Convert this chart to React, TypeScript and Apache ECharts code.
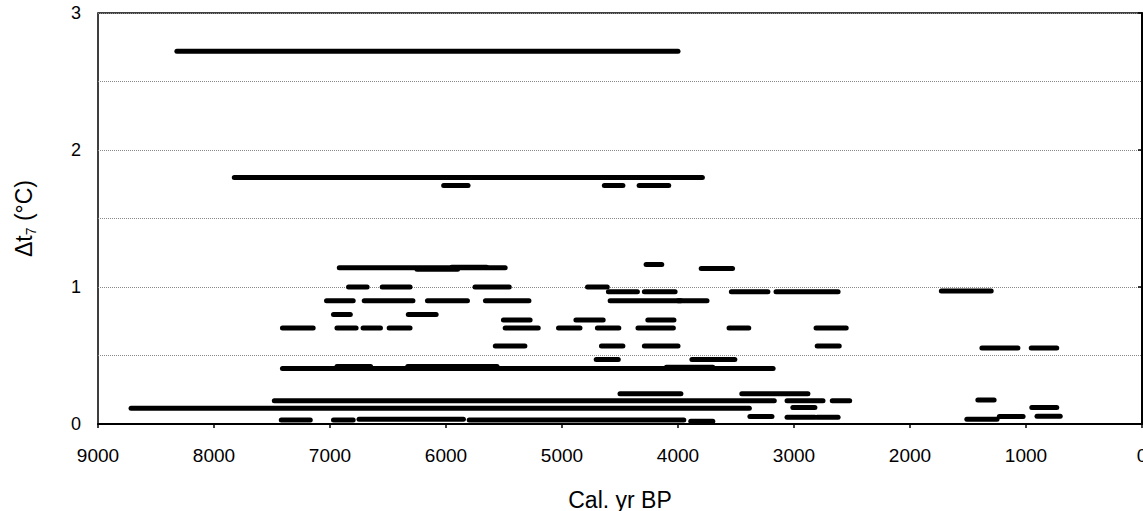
import React, { useEffect, useRef } from "react";
import * as echarts from "echarts";

// Each record: start (cal. yr BP), end (cal. yr BP), Δt7 level (°C)
const segStart = [
  8320, 7825, 6020, 4635, 4335,
  6920, 6250, 5950, 4275, 3800,
  6840, 6550, 5750, 4780,
  4600, 4290, 3540, 3155, 1730,
  7030, 6705, 6160, 5660, 4585, 4000,
  6970, 6325,
  5505, 4880, 4260,
  7410, 6940, 6715, 6490, 5490, 5030, 4695, 4345, 3560, 2810,
  5575, 4660, 4290, 2800, 1380, 955,
  4705, 3880, 3700,
  7410, 6940, 6330, 4100,
  4500, 3450,
  7480, 3060, 2670, 1415,
  8715, 3010, 950,
  7420, 6970, 6750, 5800, 3890, 3380, 3060, 2800, 1510, 1230, 905,
];
const segEnd = [
  4000, 3790, 5810, 4475, 4080,
  5490, 5900, 5650, 4140, 3530,
  6680, 6310, 5455, 4610,
  4350, 4025, 3225, 2620, 1300,
  6800, 6285, 5815, 5285, 3975, 3750,
  6825, 6085,
  5275, 4645, 4035,
  7145, 6775, 6565, 6310, 5205, 4845, 4510, 4040, 3390, 2550,
  5320, 4475, 4000, 2610, 1070, 735,
  4515, 3700, 3510,
  3180, 6650, 5560, 3700,
  3975, 2880,
  3170, 2750, 2520, 1275,
  3385, 2820, 735,
  7170, 6800, 5850, 3950, 3700, 3190, 2820, 2620, 1250, 1025, 705,
];
const segLevel = [
  2.72, 1.8, 1.74, 1.74, 1.74,
  1.14, 1.13, 1.145, 1.165, 1.135,
  1.0, 1.0, 1.0, 1.0,
  0.965, 0.965, 0.965, 0.965, 0.97,
  0.9, 0.9, 0.9, 0.9, 0.9, 0.9,
  0.8, 0.8,
  0.76, 0.76, 0.76,
  0.7, 0.7, 0.7, 0.7, 0.7, 0.7, 0.7, 0.7, 0.7, 0.7,
  0.57, 0.57, 0.57, 0.57, 0.555, 0.555,
  0.47, 0.47, 0.47,
  0.405, 0.42, 0.42, 0.415,
  0.22, 0.22,
  0.17, 0.17, 0.17, 0.175,
  0.115, 0.12, 0.12,
  0.03, 0.03, 0.035, 0.03, 0.02, 0.055, 0.05, 0.05, 0.035, 0.055, 0.057,
];

const xMin = 0;
const xMax = 9000;
const xStep = 1000;
const yMin = 0;
const yMax = 3;
const yStep = 1;

const FONT = '"Liberation Sans", Arial, Helvetica, sans-serif';

export default function App() {
  const ref = useRef<HTMLDivElement>(null);

  useEffect(() => {
    if (!ref.current) return;
    const chart = echarts.init(ref.current, null, { renderer: "svg" });
    const data = segStart.map((s, i) => [s, segEnd[i], segLevel[i]]);

    chart.setOption({
      animation: false,
      backgroundColor: "#fff",
      textStyle: { fontFamily: FONT },
      grid: {
        left: 98,
        right: 1,
        top: 13,
        bottom: 87,
        show: true,
        borderColor: "#000",
        borderWidth: 1.5,
        backgroundColor: "transparent",
        containLabel: false,
        outerBoundsMode: "none",
      },
      xAxis: {
        type: "value",
        inverse: true,
        min: xMin,
        max: xMax,
        interval: xStep,
        name: "Cal. yr BP",
        nameLocation: "middle",
        nameGap: 64,
        nameTextStyle: { fontSize: 23, color: "#000", fontFamily: FONT },
        axisLine: { show: true, onZero: false, lineStyle: { color: "#000", width: 2 } },
        axisTick: { show: true, length: 4, lineStyle: { color: "#000", width: 1.5 } },
        axisLabel: {
          fontSize: 19,
          color: "#000",
          margin: 22,
          fontFamily: FONT,
          hideOverlap: false,
          formatter: (v: number) => String(v),
        },
        splitLine: { show: false },
      },
      yAxis: {
        type: "value",
        min: yMin,
        max: yMax,
        interval: yStep,
        name: "{a|Δt}{s|7}{a| (°C)}",
        nameLocation: "middle",
        nameGap: 60,
        nameRotate: 90,
        nameTextStyle: {
          color: "#000",
          fontFamily: FONT,
          rich: {
            a: { fontSize: 23, lineHeight: 28, color: "#000", fontFamily: FONT, verticalAlign: "middle" },
            s: { fontSize: 14, lineHeight: 28, color: "#000", fontFamily: FONT, verticalAlign: "bottom" },
          },
        },
        axisLine: { show: true, lineStyle: { color: "#000", width: 2 } },
        axisTick: { show: true, length: 4, lineStyle: { color: "#000", width: 1.5 } },
        axisLabel: {
          fontSize: 18,
          color: "#000",
          margin: 17,
          fontFamily: FONT,
          formatter: (v: number) => String(v),
        },
        splitLine: { show: true, lineStyle: { color: "#888", type: "dotted", width: 1 } },
        minorTick: { show: false, splitNumber: 2 },
        minorSplitLine: { show: true, lineStyle: { color: "#888", type: "dotted", width: 1 } },
      },
      series: [
        {
          type: "custom",
          clip: false,
          encode: { x: [0, 1], y: 2 },
          data,
          renderItem: (params: any, api: any) => {
            const p1 = api.coord([api.value(0), api.value(2)]);
            const p2 = api.coord([api.value(1), api.value(2)]);
            return {
              type: "line",
              shape: { x1: p1[0], y1: p1[1], x2: p2[0], y2: p2[1] },
              style: { stroke: "#000", lineWidth: 5, lineCap: "round" },
            };
          },
        },
      ],
    });

    return () => chart.dispose();
  }, []);

  return (
    <div
      ref={ref}
      style={{ position: "fixed", left: 0, top: 0, width: 1143, height: 511, background: "#fff" }}
    />
  );
}
